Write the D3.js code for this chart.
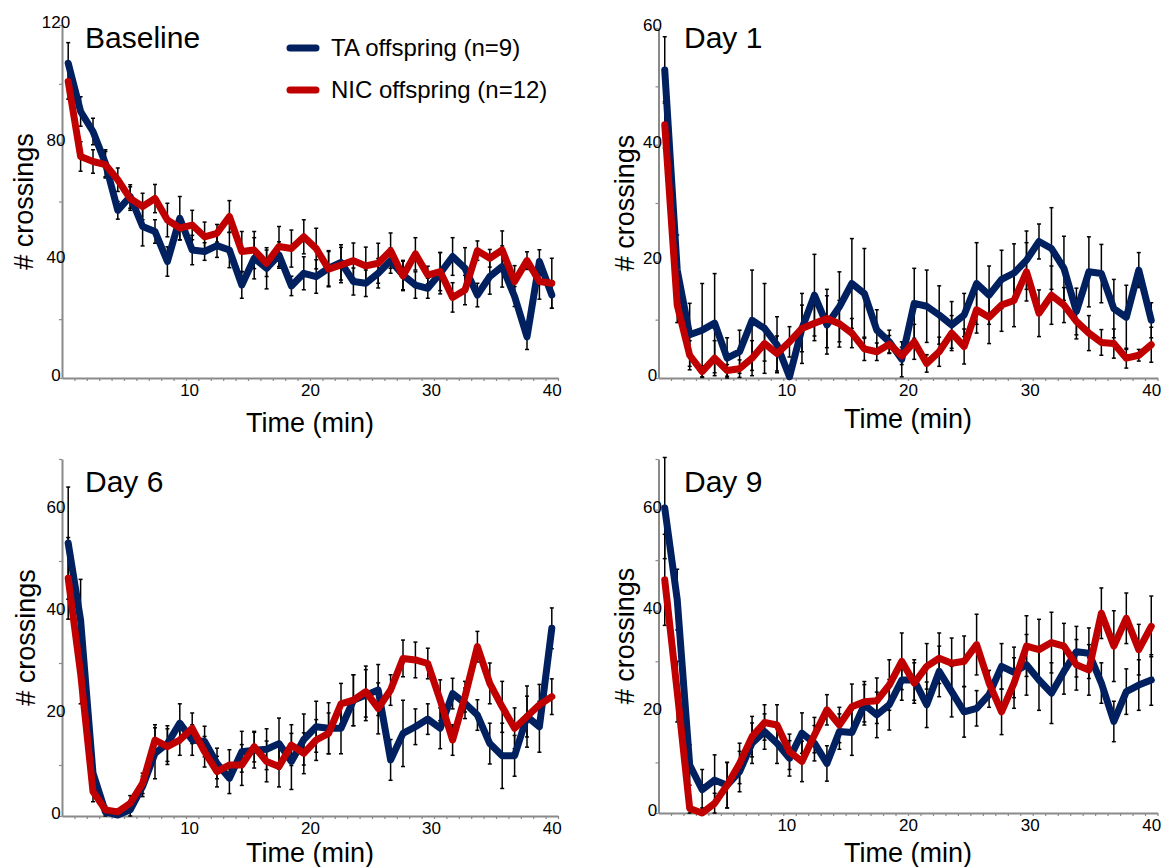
<!DOCTYPE html>
<html><head><meta charset="utf-8">
<script src="https://cdn.jsdelivr.net/npm/d3@7"></script>
<style>
body{margin:0;background:#fff;}
svg{display:block;font-family:"Liberation Sans", Arial, sans-serif;}
</style></head><body>
<svg id="chart" width="1161" height="867"></svg>
<script>
// ---------- DATA ----------
const minutes = [1,2,3,4,5,6,7,8,9,10,11,12,13,14,15,16,17,18,19,20,21,22,23,24,25,26,27,28,29,30,31,32,33,34,35,36,37,38,39,40];
const xTickLabels = [10,20,30,40];
const panelTitles = ["Baseline","Day 1","Day 6","Day 9"];
const seriesNames = ["TA offspring (n=9)","NIC offspring (n=12)"];
const yMaxes = [120,60,70,70];
const yTickSteps = [20,10,10,10];
const yLabelSteps = [40,20,20,20];

const baselineTA = [107,90.6,83.8,73,57,61.7,51.5,49.8,39.6,54.3,43.5,43,45,43.5,31.6,40.7,37.3,41.8,31.3,35.6,34.5,37.3,39.3,32.8,32.2,35.6,39.9,35,31.6,30.5,35.6,41.3,37.3,28.2,34.5,37.9,27.7,14,39.6,28.2];
const baselineTAsem = [7,5,4.5,4.6,3,4,6.6,4,5,7.4,5,3,4,6,4.5,7,7,4.5,3.3,5.6,5.7,6,6,4.6,4.5,5,4.3,5,4.5,3.4,7,6.4,7,4,6,7,3.4,4.3,4,4.5];
const baselineNIC = [100.8,75.3,73.6,72.5,67.4,61,58.3,61,53.7,51,52,48,49.2,54.9,43,43.5,39,44.7,44,48,44,37,38.4,39.9,38.1,39,43.3,34.7,42.2,35,36.2,27.4,29.9,43.3,40.7,43.5,32.8,39.9,32.8,32.2];
const baselineNICsem = [6,5,4,4.5,4,4,4.5,4.8,5.7,4,5,5,3,5.4,6.8,6.3,4.5,6.8,6.3,5.8,6.9,6,6,6,6.4,6.8,6,5,5.5,3,6.5,5,5,3.3,3,6.5,5.4,3,6,8.5];

const day1TA = [52.8,18.5,7.4,8.2,9.4,3.4,4.5,9.9,8.5,5.7,0.2,8.5,14.2,9.1,12.2,16.2,14.5,8.2,6.2,3.2,12.8,12.3,10.8,9.1,10.8,16.2,14.2,16.9,18,20.2,23.4,22.2,18.8,11.4,18.2,17.9,11.9,10.4,18.5,9.9];
const day1TAsem = [5.7,6,5.4,8,8.5,3.5,3.7,8.6,7.7,4.8,1.5,4,7,5,6,7.7,7.7,3.5,2,3,6,6.2,5,4,3.7,7,5,5,5,5,3,7,5.5,4,6,5,5,5.5,3,3];
const day1NIC = [43.4,12.5,3.9,1.1,3.4,1.3,1.6,3.4,5.9,4.2,6.2,8.5,9.4,10.2,9.3,7.7,5.0,4.5,5.8,3.8,6.2,2.5,4.5,7.7,5.4,11.7,10.4,12.5,13.3,18.2,11.1,14.2,12.5,9.7,7.7,6.1,5.9,3.4,3.9,5.7];
const day1NICsem = [4,3,2.5,1,3,1,1.5,3,3,3,2.6,6,3,5,4,2.5,2,1.5,1.5,1.5,3,1.5,2.5,3,3,4,4.5,4.5,4.5,5,4,5,3,3,3,2.2,2.5,1.7,1,3];

const day6TA = [53.5,38.4,8.4,0.8,0.2,1.2,5.8,12.3,14.2,18.2,14.9,14.6,10.3,7.4,12.6,12.9,13.1,14.2,10.7,15,17.5,17.2,17.2,22.7,23.7,24.7,11,16.2,17.5,19,17.2,24,22.1,19.8,14.2,11.8,11.8,19.5,17.5,36.8];
const day6TAsem = [11,8,2,0.8,0.5,1.5,2,5,3.5,3.8,3,3,3,3,4,3.5,4,5,5.5,5,5,5,5,5,5,5,4,6.5,3.5,3,4,3,3,3,4,6.4,4,6,5,4];
const day6NIC = [46.6,28,4.8,1.2,0.8,2.5,6.4,14.9,13.6,14.9,17.2,12.6,8.7,10,10,13.6,10.7,9.7,13.9,12.3,14.9,16.2,22,22.7,24.4,21.1,24.7,30.9,30.6,29.9,22.7,14.9,23.4,33.2,26,21.4,17.2,19.5,21.8,23.4];
const day6NICsem = [8,6,2,0.8,0.5,1.5,2,3,3.5,3,3,3,3,3,4,3,4,4,4,4,4,4,4,5,5,5,3,3.6,3.5,3,4,3,3,3,4,5,4,4,4,3.5];

const day9TA = [60.3,42.2,9.5,4.6,6.5,5.5,8.2,13.8,16.1,13.8,10.8,15.8,13.8,9.8,16.1,15.9,21.4,19.4,21.4,26.3,26.3,21.4,28,24,20,20.7,23.4,29,27.8,29.3,26.3,23.7,28,31.9,31.6,25.7,18.1,24,25.3,26.3];
const day9TAsem = [10,6,4,4,5,4.5,4,4,3.5,4,3.5,4,3.5,3.5,3.5,4.5,4,4.5,5,4,4,4.5,5,5,5,3.5,2.5,4.5,5,6,6,6,4.5,5,5,4,4,4.5,5,5];
const day9NIC = [46.1,24,0.9,0,1.9,5.5,9.8,15.1,17.9,17.4,12.1,10.2,15.4,20.4,17.4,21,22,22.2,25.3,30,25.7,29,30.6,29.6,30,33.3,25.7,20,25.7,33,32.3,33.7,33,29.3,28.3,39.5,33,38.5,32.3,36.9];
const day9NICsem = [9,6,1,1,2,4.5,4,4,3.5,4,3.5,4,3.5,3,3.5,4.5,4,4.5,5,5.6,4,4.5,5,5,5,6,2.5,4.5,5,6,6,6,4.5,5,5,5,7,5,5,6];

// ---------- LAYOUT / STYLE ----------
const colors = ["#002060", "#C00000"];
const axisColor = "#8a8a8a";
const layouts = [
  {left:62,   right:558,    top:25,  bottom:378, titleX:85,  titleY:48,  ylabX:33,  xtitleY:432},
  {left:658.5,right:1157.5, top:28,  bottom:378, titleX:684, titleY:48,  ylabX:634, xtitleY:428},
  {left:62,   right:558,    top:459, bottom:816, titleX:85,  titleY:492, ylabX:35,  xtitleY:862},
  {left:658.5,right:1157.5, top:459, bottom:813, titleX:684, titleY:492, ylabX:634, xtitleY:862}
];
const panelData = [
  [[baselineTA, baselineTAsem],[baselineNIC, baselineNICsem]],
  [[day1TA, day1TAsem],[day1NIC, day1NICsem]],
  [[day6TA, day6TAsem],[day6NIC, day6NICsem]],
  [[day9TA, day9TAsem],[day9NIC, day9NICsem]]
];

const svg = d3.select("#chart");

panelData.forEach((series, p) => {
  const L = layouts[p];
  const g = svg.append("g");
  const x = d3.scaleLinear().domain([0.5, 40.5]).range([L.left, L.right]);
  const xLab = d3.scaleLinear().domain([0, 40]).range([x(minutes[0]), x(minutes[minutes.length-1])]);
  const y = d3.scaleLinear().domain([0, yMaxes[p]]).range([L.bottom, L.top]);

  // y axis
  const yAxis = d3.axisLeft(y)
    .tickValues(d3.range(0, yMaxes[p] + 0.001, yTickSteps[p]))
    .tickSize(3).tickSizeOuter(0)
    .tickFormat(d => d % yLabelSteps[p] === 0 ? d : "");
  const ya = g.append("g").attr("transform", `translate(${L.left},0)`).call(yAxis);
  ya.select(".domain").attr("stroke", axisColor).attr("stroke-width", 2);
  ya.selectAll(".tick line").attr("stroke", axisColor).attr("stroke-width", 1.2);
  ya.selectAll(".tick text").attr("x", -6).attr("y", -3).attr("text-anchor", "middle")
    .attr("font-size", 17).attr("fill", "#000").attr("font-family", '"Liberation Sans", Arial, sans-serif');

  // x axis (minor ticks at category boundaries)
  const xAxis = d3.axisBottom(x).tickValues(d3.range(1.5, 41, 1)).tickSize(3).tickSizeOuter(0).tickFormat("");
  const xa = g.append("g").attr("transform", `translate(0,${L.bottom})`).call(xAxis);
  xa.select(".domain").attr("stroke", axisColor).attr("stroke-width", 2);
  xa.selectAll(".tick line").attr("stroke", axisColor).attr("stroke-width", 1.2);

  // x tick labels
  const xLabAxis = d3.axisBottom(xLab).tickValues(xTickLabels).tickSize(0).tickPadding(6);
  const xl = g.append("g").attr("transform", `translate(0,${L.bottom})`).call(xLabAxis);
  xl.select(".domain").remove();
  xl.selectAll(".tick text").attr("font-size", 17).attr("fill", "#000").attr("font-family", '"Liberation Sans", Arial, sans-serif');

  // axis titles
  g.append("text").attr("x", (L.left + L.right) / 2).attr("y", L.xtitleY)
    .attr("text-anchor", "middle").attr("font-size", 27).text("Time (min)");
  g.append("text").attr("transform", `translate(${L.ylabX},${(L.top + L.bottom) / 2}) rotate(-90)`)
    .attr("text-anchor", "middle").attr("font-size", 27).text("# crossings");

  // panel title
  g.append("text").attr("x", L.titleX).attr("y", L.titleY).attr("font-size", 30).text(panelTitles[p]);

  // error bars
  series.forEach(([vals, sems]) => {
    const eb = g.append("g").attr("stroke", "#000").attr("stroke-width", 1.5);
    vals.forEach((v, i) => {
      const cx = x(minutes[i]);
      const y1 = y(Math.max(0, v - sems[i])), y2 = y(v + sems[i]);
      eb.append("line").attr("x1", cx).attr("x2", cx).attr("y1", y1).attr("y2", y2);
      eb.append("line").attr("x1", cx - 2).attr("x2", cx + 2).attr("y1", y1).attr("y2", y1);
      eb.append("line").attr("x1", cx - 2).attr("x2", cx + 2).attr("y1", y2).attr("y2", y2);
    });
  });

  // lines
  const line = d3.line().x((d, i) => x(minutes[i])).y(d => y(d));
  series.forEach(([vals], s) => {
    g.append("path").datum(vals).attr("d", line).attr("fill", "none")
      .attr("stroke", colors[s]).attr("stroke-width", 7)
      .attr("stroke-linejoin", "round").attr("stroke-linecap", "round");
  });
});

// legend
const legendY = [48, 90];
seriesNames.forEach((name, s) => {
  svg.append("line").attr("x1", 290).attr("x2", 316).attr("y1", legendY[s]).attr("y2", legendY[s])
    .attr("stroke", colors[s]).attr("stroke-width", 7).attr("stroke-linecap", "round");
  svg.append("text").attr("x", 331).attr("y", legendY[s] + 8).attr("font-size", 24).text(name);
});
</script>
</body></html>
